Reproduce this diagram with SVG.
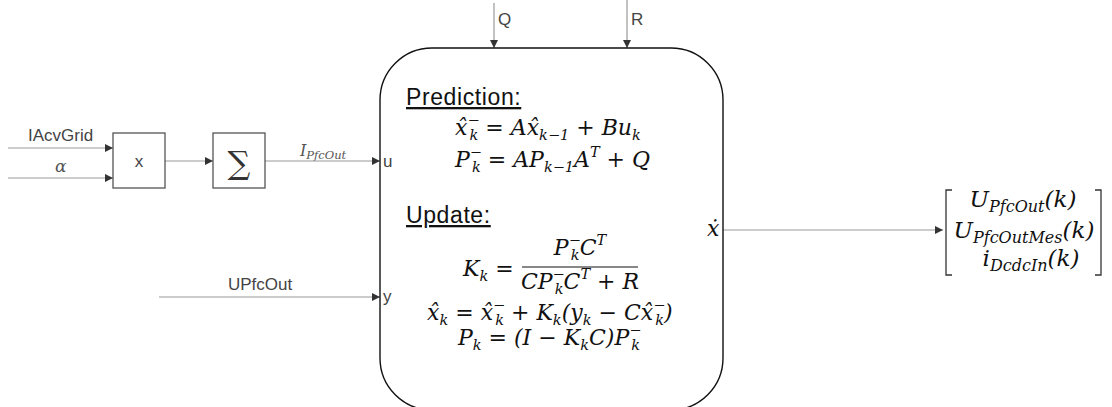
<svg xmlns="http://www.w3.org/2000/svg" width="1112" height="407" viewBox="0 0 1112 407">
<defs>
<marker id="ah" viewBox="0 0 10 10" refX="10" refY="5" markerWidth="8" markerHeight="8" markerUnits="userSpaceOnUse" orient="auto"><path d="M0,0 L10,5 L0,10 z" fill="#333"/></marker>
</defs>
<style>
.ln{stroke:#999;stroke-width:1.2;fill:none}
.bx{fill:#fff;stroke:#555;stroke-width:1.3}
.lbl{font-family:"Liberation Sans",Arial,sans-serif;font-size:17px;fill:#444}
.hd{font-family:"Liberation Sans",Arial,sans-serif;font-size:23px;letter-spacing:0.6px;fill:#111;text-decoration:underline}
.m{font-family:"DejaVu Serif",serif;font-style:italic;font-size:22px;fill:#111}
.s{font-size:14.5px}
.mx{font-size:23px}
.mx .s{font-size:16px}
.ml{font-family:"DejaVu Serif",serif;font-style:italic;fill:#555}
</style>
<rect width="1112" height="407" fill="#fff"/>
<g id="connectors">
<line class="ln" x1="8" y1="148" x2="113" y2="148" marker-end="url(#ah)"/>
<line class="ln" x1="8" y1="178" x2="113" y2="178" marker-end="url(#ah)"/>
<line class="ln" x1="165" y1="161" x2="213" y2="161" marker-end="url(#ah)"/>
<line class="ln" x1="265" y1="161" x2="380" y2="161" marker-end="url(#ah)"/>
<line class="ln" x1="159" y1="297" x2="380" y2="297" marker-end="url(#ah)"/>
<line class="ln" x1="494" y1="3" x2="494" y2="48" marker-end="url(#ah)"/>
<line class="ln" x1="627" y1="0" x2="627" y2="48" marker-end="url(#ah)"/>
<line class="ln" x1="723" y1="230" x2="943" y2="230" marker-end="url(#ah)"/>
<text class="lbl" x="28" y="141">IAcvGrid</text>
<text class="ml" x="55" y="172" font-size="17">α</text>
<text class="ml" x="300" y="156" font-size="16">I<tspan font-size="11.5" dy="3">PfcOut</tspan></text>
<text class="lbl" x="260" y="290" text-anchor="middle">UPfcOut</text>
<text class="lbl" x="498" y="25">Q</text>
<text class="lbl" x="631" y="25">R</text>
</g>
<g id="mult">
<rect class="bx" x="113" y="133" width="52" height="55"/>
<text class="lbl" x="139" y="167" text-anchor="middle" fill="#333">x</text>
</g>
<g id="sum">
<rect class="bx" x="213" y="133" width="52" height="55"/>
<text x="239" y="174" text-anchor="middle" font-family="DejaVu Serif,serif" font-size="32" fill="#333">∑</text>
</g>
<g id="kalman">
<rect x="380" y="48" width="343" height="362" rx="52" ry="52" fill="#fff" stroke="#111" stroke-width="1.4"/>
<text class="lbl" x="383" y="167" fill="#111">u</text>
<text class="lbl" x="383" y="302" fill="#111">y</text>
<text class="m" x="707" y="236" font-size="17">ẋ</text>
<text class="hd" x="406" y="105">Prediction:</text>
<text class="hd" x="406" y="223">Update:</text>
<text class="m" x="455" y="135">x̂<tspan class="s" dy="-10">−</tspan><tspan class="s" dx="-10" dy="15">k</tspan><tspan dy="-5"> = A</tspan>x̂<tspan class="s" dy="5">k−1</tspan><tspan dy="-5"> + Bu</tspan><tspan class="s" dy="5">k</tspan></text>
<text class="m" x="455" y="167">P<tspan class="s" dy="-10">−</tspan><tspan class="s" dx="-10" dy="15">k</tspan><tspan dy="-5"> = AP</tspan><tspan class="s" dy="5">k−1</tspan><tspan dy="-5">A</tspan><tspan class="s" dy="-10">T</tspan><tspan dy="10"> + Q</tspan></text>
<text class="m" x="463" y="276">K<tspan class="s" dy="5">k</tspan><tspan dy="-5"> =</tspan></text>
<text class="m" x="580" y="255" text-anchor="middle">P<tspan class="s" dy="-10">−</tspan><tspan class="s" dx="-10" dy="15">k</tspan><tspan dy="-5">C</tspan><tspan class="s" dy="-10">T</tspan></text>
<line x1="522" y1="267" x2="638" y2="267" stroke="#111" stroke-width="1.2"/>
<text class="m" x="580" y="289" text-anchor="middle">CP<tspan class="s" dy="-10">−</tspan><tspan class="s" dx="-10" dy="15">k</tspan><tspan dy="-5">C</tspan><tspan class="s" dy="-10">T</tspan><tspan dy="10"> + R</tspan></text>
<text class="m" x="427" y="320">x̂<tspan class="s" dy="5">k</tspan><tspan dy="-5"> = x̂</tspan><tspan class="s" dy="-10">−</tspan><tspan class="s" dx="-10" dy="15">k</tspan><tspan dy="-5"> + K</tspan><tspan class="s" dy="5">k</tspan><tspan dy="-5">(y</tspan><tspan class="s" dy="5">k</tspan><tspan dy="-5"> − Cx̂</tspan><tspan class="s" dy="-10">−</tspan><tspan class="s" dx="-10" dy="15">k</tspan><tspan dy="-5">)</tspan></text>
<text class="m" x="458" y="345">P<tspan class="s" dy="5">k</tspan><tspan dy="-5"> = (I − K</tspan><tspan class="s" dy="5">k</tspan><tspan dy="-5">C)P</tspan><tspan class="s" dy="-10">−</tspan><tspan class="s" dx="-10" dy="15">k</tspan></text>
</g>
<g id="output">
<path d="M952,190 H946 V275 H952 M1095,190 H1101 V275 H1095" fill="none" stroke="#333" stroke-width="1.3"/>
<text class="m mx" x="1023" y="207" text-anchor="middle">U<tspan class="s" dy="5">PfcOut</tspan><tspan dy="-5">(k)</tspan></text>
<text class="m mx" x="1024" y="238" text-anchor="middle">U<tspan class="s" dy="5">PfcOutMes</tspan><tspan dy="-5">(k)</tspan></text>
<text class="m mx" x="1031" y="266" text-anchor="middle">i<tspan class="s" dy="5">DcdcIn</tspan><tspan dy="-5">(k)</tspan></text>
</g>
</svg>
